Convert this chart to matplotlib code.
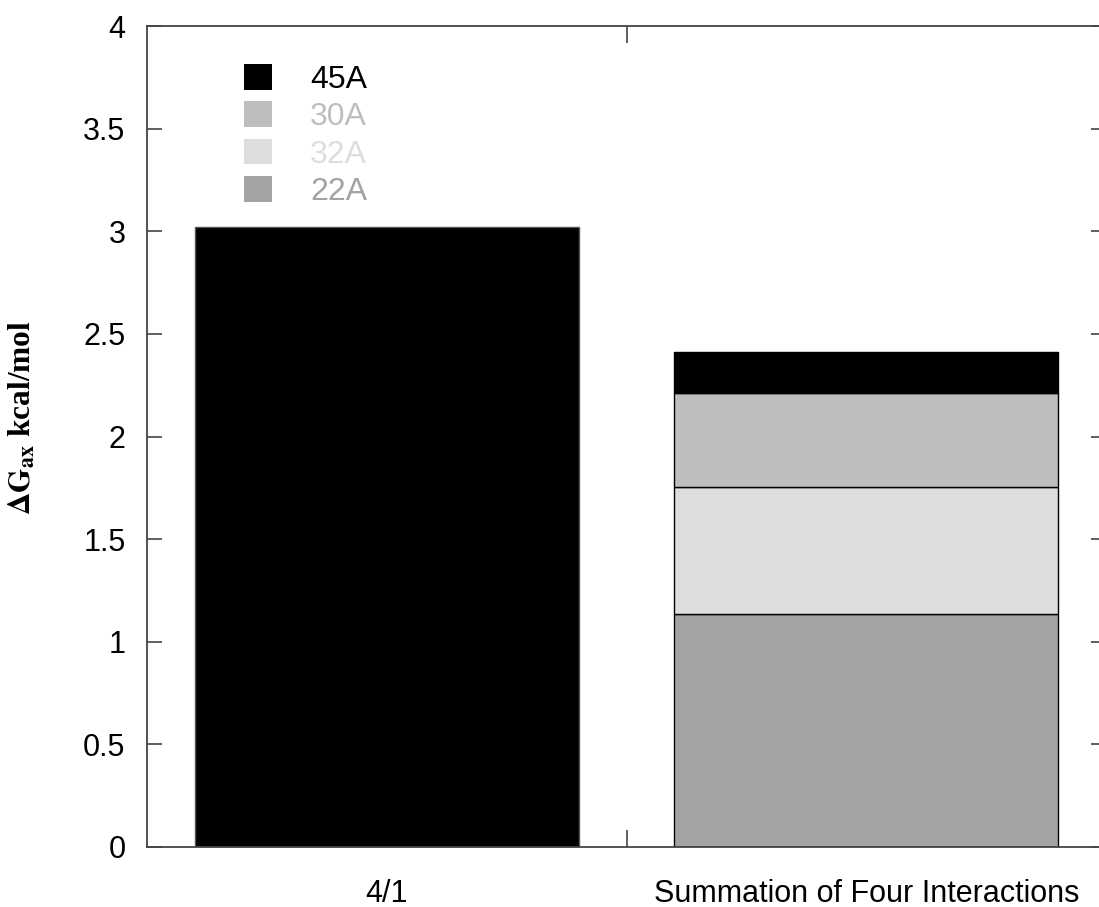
import numpy as np
import matplotlib.pyplot as plt
from matplotlib.patches import Patch

plt.rcParams['font.family'] = ['Liberation Sans', 'DejaVu Sans']
plt.rcParams['mathtext.fontset'] = 'stix'

# данные
categories = ['4/1', 'Summation of Four Interactions']
components = ['22A', '32A', '30A', '45A']
colors = {'45A': '#000000', '30A': '#bebebe', '32A': '#dcdedd', '22A': '#a3a3a3'}
total_41 = 3.02
summation = {'22A': 1.135, '32A': 0.62, '30A': 0.458, '45A': 0.20}

fig = plt.figure(figsize=(10.99, 9.07), dpi=100)
ax = fig.add_axes([147 / 1099, 1 - 847 / 907, 959 / 1099, 821 / 907])

x = np.arange(len(categories))
width = 0.8

ax.bar(x[0], total_41, width, color=colors['45A'], edgecolor='#555555', linewidth=1)
bottom = 0.0
for comp in components:
    ax.bar(x[1], summation[comp], width, bottom=bottom, color=colors[comp],
           edgecolor='black', linewidth=1)
    bottom += summation[comp]

ax.set_xlim(-0.5, 1.5)
ax.set_ylim(0, 4)
ax.set_yticks(np.arange(0, 4.01, 0.5))
ax.set_yticklabels(['0', '0.5', '1', '1.5', '2', '2.5', '3', '3.5', '4'])
ax.set_xticks(x)
ax.set_xticklabels(categories)
ax.set_xticks([0.5], minor=True)
ax.tick_params(axis='x', which='major', length=0, pad=23, labelsize=22)
ax.tick_params(axis='x', which='minor', direction='in', length=12, width=1.2,
               top=True, bottom=True, color='#444444')
ax.tick_params(axis='y', direction='in', length=11, width=1.2, right=True,
               labelsize=22, pad=15.5, color='#444444')
for sp in ax.spines.values():
    sp.set_linewidth(1.3)
    sp.set_color('#444444')

ax.set_ylabel(r'$\mathbf{\Delta G_{ax}}$ kcal/mol', fontsize=22.5,
              fontfamily='Liberation Serif', fontweight='bold')
ax.yaxis.set_label_coords(-0.1137, 0.5225)

# легенда: 45A сверху
leg_order = ['45A', '30A', '32A', '22A']
handles = [Patch(facecolor=colors[c], edgecolor='none') for c in leg_order]
leg = ax.legend(handles, leg_order, loc='upper left', bbox_to_anchor=(0.101, 0.954),
                frameon=False, fontsize=23, handlelength=0.87, handleheight=0.87,
                handletextpad=1.2, labelspacing=0.2, borderpad=0, borderaxespad=0,
                labelcolor=[colors[c] for c in leg_order])

fig.savefig('out.png', dpi=100)
